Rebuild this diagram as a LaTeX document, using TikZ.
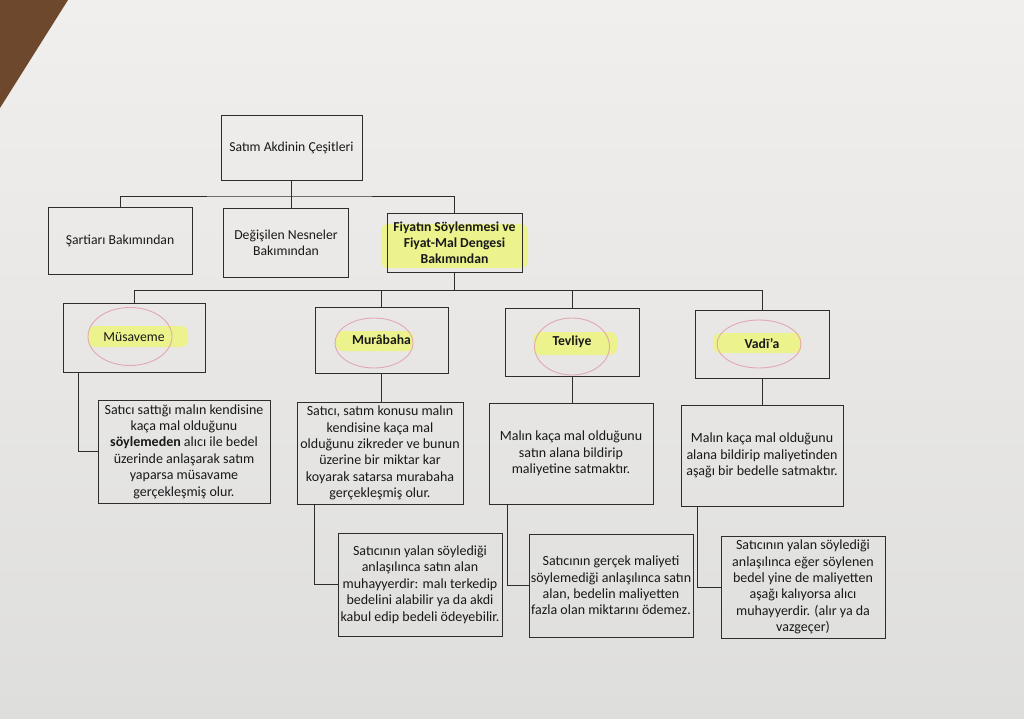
\documentclass[tikz,border=0pt]{standalone}
\usepackage{fontspec}
\setmainfont{Carlito}
\usetikzlibrary{positioning}
\definecolor{paperhi}{RGB}{241,239,237}
\definecolor{paperlow}{RGB}{222,222,221}
\definecolor{ink}{RGB}{45,45,45}
\definecolor{marker}{RGB}{236,243,140}
\definecolor{ringpink}{RGB}{226,168,178}
\definecolor{wood}{RGB}{110,72,45}

\begin{document}
\begin{tikzpicture}[x=1pt,y=-1pt,
 box/.style={draw=ink,line width=0.8pt,align=center,text=black!90,font=\fontsize{13.7}{16}\selectfont,inner sep=2pt,minimum height=67pt},
 note/.style={draw=ink,line width=0.8pt,align=center,text=black!90,font=\fontsize{14}{16.4}\selectfont,inner sep=1.5pt,minimum width=164pt,minimum height=102pt},
 link/.style={draw=ink,line width=0.8pt},
 hl/.style={fill=marker,rounded corners=7pt},
 ring/.style={draw=ringpink,line width=0.9pt}]
\useasboundingbox (0,0) rectangle (1024,719);
% paper and desk corner
\shade[top color=paperhi,bottom color=paperlow] (0,0) rectangle (1024,719);
\fill[wood] (0,0) -- (68,0) -- (0,108) -- cycle;
% marker and pen traces
\fill[hl] (381,224) rectangle (528,268);
\fill[hl] (88,326) rectangle (188,347);
\fill[hl] (336,331) rectangle (414,351);
\fill[hl] (533,332) rectangle (617,355);
\fill[hl] (713,333) rectangle (802,353);
\draw[ring] (130,336.5) ellipse [x radius=42,y radius=29];
\draw[ring] (374,343) ellipse [x radius=39,y radius=25];
\draw[ring] (572,346.5) ellipse [x radius=37.5,y radius=28.5];
\draw[ring] (759,344) ellipse [x radius=42,y radius=24];
% top levels
\node[box,minimum width=141pt,minimum height=65pt] (root) at (291.5,147.5) {Satım Akdinin Çeşitleri};
\node[box,minimum width=144pt] (sart) at (120,240.5) {Şartiarı Bakımından};
\node[box,minimum width=125pt,minimum height=69pt] (degis) at (286,242.5) {Değişilen Nesneler\\Bakımından};
\node[box,minimum width=135pt,minimum height=59pt,font=\fontsize{13.7}{16}\selectfont\bfseries] (fiyat) at (454.5,242.5) {Fiyatın Söylenmesi ve\\Fiyat-Mal Dengesi\\Bakımından};
% sale types
\node[box,minimum width=142pt,minimum height=69pt] (mus) at (134,337.5) {Müsaveme};
\node[box,minimum width=133pt,minimum height=66pt,font=\fontsize{13.7}{16}\selectfont\bfseries] (mur) at (381.5,340) {Murâbaha};
\node[box,minimum width=134pt,minimum height=68pt,font=\fontsize{13.7}{16}\selectfont\bfseries] (tev) at (572,342) {Tevliye};
\node[box,minimum width=134pt,minimum height=68pt,font=\fontsize{13.7}{16}\selectfont\bfseries] (vad) at (762,344) {Vadī'a};
% definitions
\node[note,minimum width=172pt,minimum height=103pt] (musd) at (184,451.5) {Satıcı sattığı malın kendisine\\kaça mal olduğunu\\\textbf{söylemeden} alıcı ile bedel\\üzerinde anlaşarak satım\\yaparsa müsavame\\gerçekleşmiş olur.};
\node[note,minimum width=166pt] (murd) at (380,453) {Satıcı, satım konusu malın\\kendisine kaça mal\\olduğunu zikreder ve bunun\\üzerine bir miktar kar\\koyarak satarsa murabaha\\gerçekleşmiş olur.};
\node[note,minimum height=101pt] (tevd) at (571,453.5) {Malın kaça mal olduğunu\\satın alana bildirip\\maliyetine satmaktır.};
\node[note,minimum width=162pt,minimum height=101pt] (vadd) at (762,455.5) {Malın kaça mal olduğunu\\alana bildirip maliyetinden\\aşağı bir bedelle satmaktır.};
% consequences
\node[note,minimum height=103pt] (murx) at (420,584.5) {Satıcının yalan söylediği\\anlaşılınca satın alan\\muhayyerdir: malı terkedip\\bedelini alabilir ya da akdi\\kabul edip bedeli ödeyebilir.};
\node[note,minimum height=103pt] (tevx) at (611,585.5) {Satıcının gerçek maliyeti\\söylemediği anlaşılınca satın\\alan, bedelin maliyetten\\fazla olan miktarını ödemez.};
\node[note] (vadx) at (803,587) {Satıcının yalan söylediği\\anlaşılınca eğer söylenen\\bedel yine de maliyetten\\aşağı kalıyorsa alıcı\\muhayyerdir. (alır ya da\\vazgeçer)};
% tree lines
\coordinate (bar1) at (0,196);
\coordinate (bar2) at (0,290);
\draw[link] (root.south) -- (root.south |- degis.north);
\draw[link] (sart.north) |- (root.south |- bar1) -| (fiyat.north);
\draw[link] (fiyat.south) -- (fiyat.south |- bar2);
\draw[link] (mus.north) |- (vad.north |- bar2) -- (vad.north);
\draw[link] (mur.north) -- (mur.north |- bar2);
\draw[link] (tev.north) -- (tev.north |- bar2);
\draw[link] ([xshift=-56pt]mus.south) |- (musd.west);
\draw[link] (mur.south) -- (mur.south |- murd.north);
\draw[link] (tev.south) -- (tev.south |- tevd.north);
\draw[link] (vad.south) -- (vad.south |- vadd.north);
\draw[link] ([xshift=-66pt]murd.south) |- (murx.west);
\draw[link] ([xshift=-64pt]tevd.south) |- (tevx.west);
\draw[link] ([xshift=-65pt]vadd.south) |- (vadx.west);
\end{tikzpicture}
\end{document}
